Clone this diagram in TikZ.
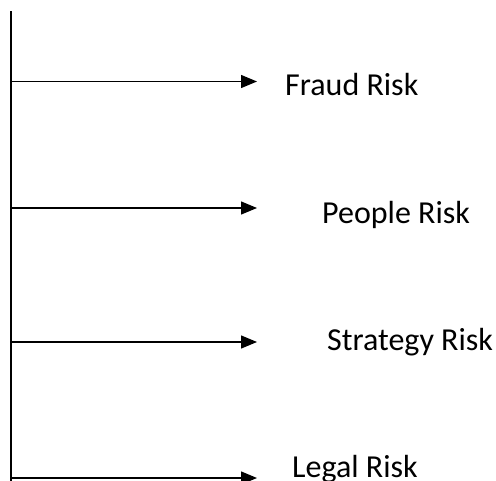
\documentclass[tikz,border=0pt]{standalone}
\usepackage{fontspec}
\setmainfont{Carlito}
\usetikzlibrary{arrows.meta}
\begin{document}
\begin{tikzpicture}[x=1pt,y=-1pt,
	riskarrow/.style={line width=1.3pt,-{Triangle[length=16pt,width=13pt]}},
	risklabel/.style={anchor=base west,inner sep=0pt,font=\fontsize{32}{38}\selectfont}]
\useasboundingbox (0,0) rectangle (496,480);
\clip (0,0) rectangle (496,480);
%spine
\draw[line width=2pt] (11,11) coordinate (top) -- (11,484) coordinate (foot);
%fraud
\coordinate (s1) at (11,81.5);
\coordinate (e1) at (257,81.5);
\draw[riskarrow] (s1) -- (e1);
\node[risklabel] (fraud) at (285,95) {Fraud Risk};
%people
\coordinate (s2) at (11,208);
\coordinate (e2) at (257,208);
\draw[riskarrow] (s2) -- (e2);
\node[risklabel] (people) at (322,223) {People Risk};
%strategy
\coordinate (s3) at (11,342);
\coordinate (e3) at (257,342);
\draw[riskarrow] (s3) -- (e3);
\node[risklabel] (strategy) at (327,350) {Strategy Risk};
%legal
\coordinate (s4) at (11,478);
\coordinate (e4) at (257,478);
\draw[riskarrow] (s4) -- (e4);
\node[risklabel] (legal) at (292,477) {Legal Risk};
\end{tikzpicture}
\end{document}
